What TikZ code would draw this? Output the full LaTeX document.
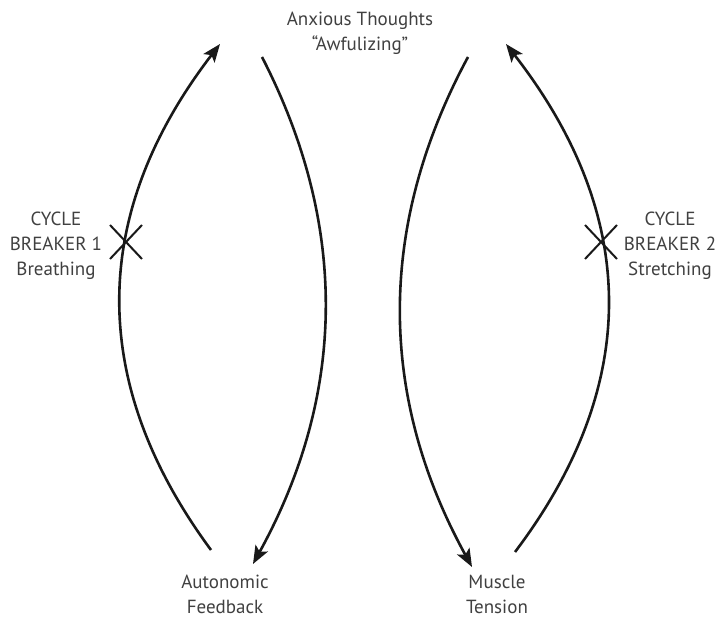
\documentclass[tikz,border=0pt]{standalone}
\usepackage{fontspec}
\setmainfont{PT Sans}
\usetikzlibrary{arrows.meta,calc}
\begin{document}
\begin{tikzpicture}[x=1pt,y=-1pt,
  lbl/.style={text=black!75,font=\fontsize{19}{25}\selectfont,align=center,inner sep=0pt},
  arc/.style={line width=2.6pt,black!90,-{Stealth[length=18pt,width=14pt,inset=4pt]}},
  cross/.style={line width=2pt,black!90}]
\useasboundingbox (0,0) rectangle (721,617);
\node[lbl] (top) at (360,33) {Anxious Thoughts\\``Awfulizing''};
\node[lbl] (cb1) at (56,246) {CYCLE\\BREAKER 1\\Breathing};
\node[lbl] (cb2) at (670,246) {CYCLE\\BREAKER 2\\Stretching};
\node[lbl] (auto) at (225,594) {Autonomic\\Feedback};
\node[lbl] (musc) at (497,594) {Muscle\\Tension};
\coordinate (a1) at (211,550); \coordinate (a2) at (220,44);
\coordinate (b1) at (262,57);  \coordinate (b2) at (253,564);
\coordinate (c1) at (468,57);  \coordinate (c2) at (472,567);
\coordinate (d1) at (515,552); \coordinate (d2) at (506,44);
\draw[arc] (a1) .. controls (87,382) and (90,213) .. (a2);
\draw[arc] (b1) .. controls (349,226) and (346,395) .. (b2);
\draw[arc] (c1) .. controls (377,226) and (378,396) .. (c2);
\draw[arc] (d1) .. controls (642,384) and (639,215) .. (d2);
\coordinate (x1) at (126,242); \coordinate (x2) at (601,242);
\draw[cross] ($(x1)+(-16,-17)$) -- ($(x1)+(16,17)$) ($(x1)+(-16,17)$) -- ($(x1)+(16,-17)$);
\draw[cross] ($(x2)+(-16,-17)$) -- ($(x2)+(16,17)$) ($(x2)+(-16,17)$) -- ($(x2)+(16,-17)$);
\end{tikzpicture}
\end{document}
